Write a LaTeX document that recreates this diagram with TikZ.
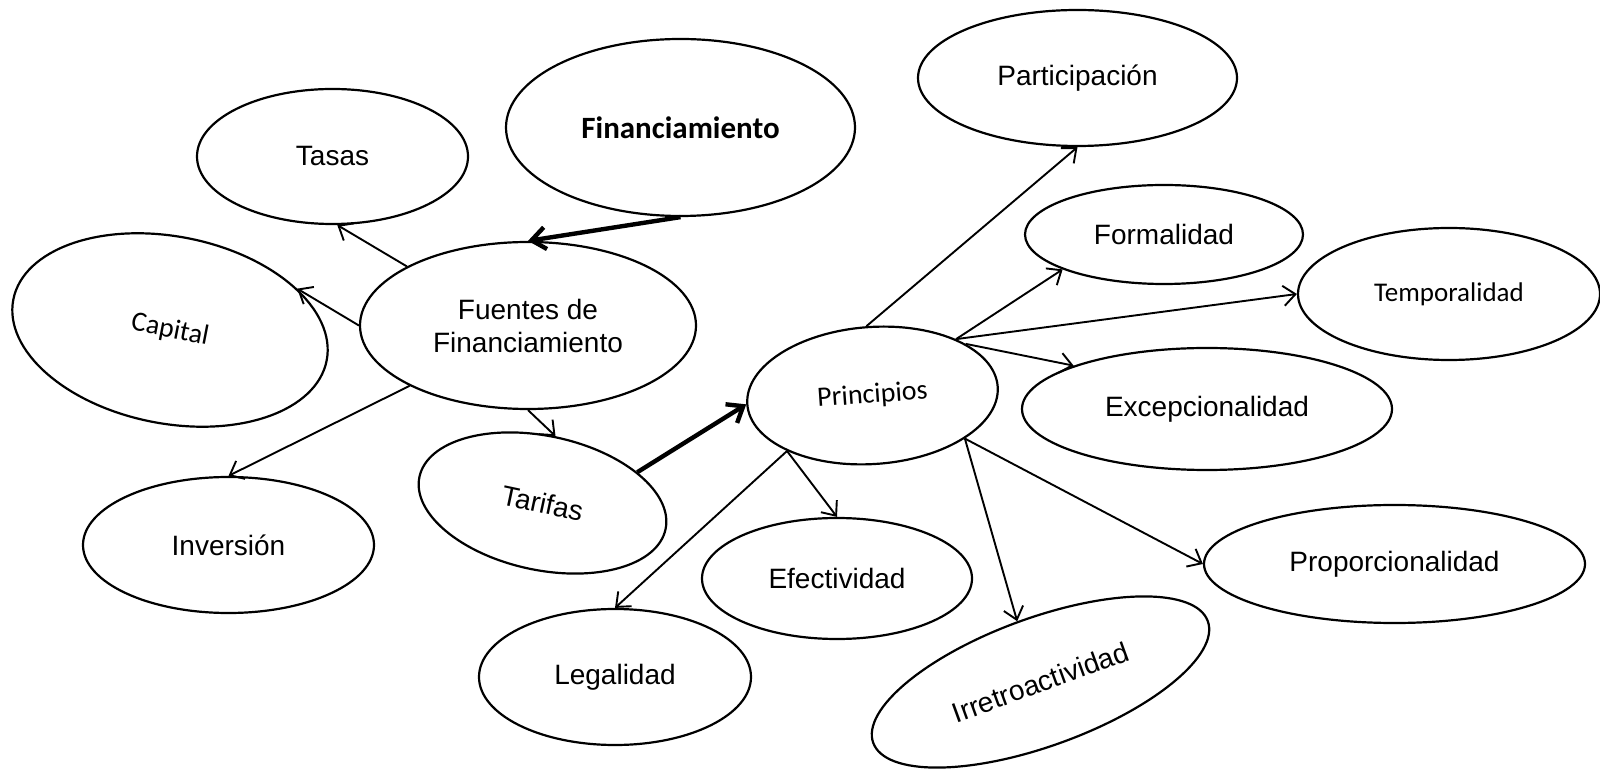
\documentclass[tikz,border=0pt]{standalone}
\usepackage{fontspec}
\setmainfont{Liberation Sans}
\newfontfamily\calibrifont{Carlito}
\usetikzlibrary{shapes.geometric,arrows.meta}

\begin{document}
\begin{tikzpicture}[x=0.5pt,y=-0.5pt,
    oval_node/.style={ellipse,draw,line width=1.1pt,inner sep=0pt,align=center,font=\fontsize{14pt}{16.5pt}\selectfont},
    calibri_node/.style={oval_node,font={\calibrifont\fontsize{14pt}{16.5pt}\selectfont}},
    link/.style={-{Straight Barb[length=6pt,width=10pt]},line width=0.95pt},
    bold_link/.style={-{Straight Barb[length=7pt,width=11pt]},line width=2.2pt}]
    \useasboundingbox (0,0) rectangle (1600,769);
    % left group
    \node[calibri_node, minimum width=174.5pt, minimum height=88.5pt, font={\calibrifont\bfseries\fontsize{15.5pt}{18pt}\selectfont}] (fin) at (680.5,127.5) {Financiamiento};
    \node[oval_node, minimum width=135.5pt, minimum height=67.5pt] (tasas) at (332.5,156.5) {Tasas};
    \node[oval_node, minimum width=168pt, minimum height=83.5pt] (fuentes) at (528,325.5) {Fuentes de\\Financiamiento};
    \node[calibri_node, minimum width=159.6pt, minimum height=93.5pt, rotate=-11] (capital) at (170,330) {Capital};
    \node[oval_node, minimum width=145.5pt, minimum height=68pt] (inversion) at (228.5,545) {Inversión};
    \node[oval_node, minimum width=125.8pt, minimum height=67pt, rotate=-12] (tarifas) at (542.5,503) {Tarifas};
    % principios and its branches
    \node[calibri_node, minimum width=125.5pt, minimum height=68.5pt, rotate=4] (principios) at (872.5,395.5) {Principios};
    \node[oval_node, minimum width=159.5pt, minimum height=68pt] (participacion) at (1077.5,78) {Participación};
    \node[oval_node, minimum width=139pt, minimum height=49.5pt] (formalidad) at (1164,234.5) {Formalidad};
    \node[calibri_node, minimum width=151pt, minimum height=66pt, font={\calibrifont\fontsize{13.5pt}{16pt}\selectfont}] (temporalidad) at (1449,294) {Temporalidad};
    \node[oval_node, minimum width=185pt, minimum height=61pt] (excep) at (1207,409) {Excepcionalidad};
    \node[oval_node, minimum width=190.5pt, minimum height=59pt] (propor) at (1394.5,564) {Proporcionalidad};
    \node[oval_node, minimum width=178pt, minimum height=64pt, rotate=20] (irretro) at (1040.5,682) {Irretroactividad};
    \node[oval_node, minimum width=135pt, minimum height=60.5pt] (efect) at (837,578.5) {Efectividad};
    \node[oval_node, minimum width=136pt, minimum height=68pt] (legal) at (615,677) {Legalidad};
    % connectors
    \draw[bold_link] (fin.270) -- (fuentes.90);
    \draw[link] (fuentes.154) -- (tasas.274);
    \draw[link] (fuentes.180) -- (capital.29);
    \draw[link] (fuentes.207) -- (inversion.90);
    \draw[link] (fuentes.270) -- (tarifas.91);
    \draw[bold_link] (tarifas.30) -- (principios.180);
    \draw[link] (principios.91) -- (participacion.270);
    \draw[link] (principios.30) -- (formalidad.199);
    \draw[link] (principios.30) -- (temporalidad.180);
    \draw[link] (principios.25) -- (excep.162);
    \draw[link] (principios.331) -- (propor.180);
    \draw[link] (principios.331) -- (irretro.91);
    \draw[link] (principios.209) -- (efect.90);
    \draw[link] (principios.209) -- (legal.90);
\end{tikzpicture}
\end{document}
